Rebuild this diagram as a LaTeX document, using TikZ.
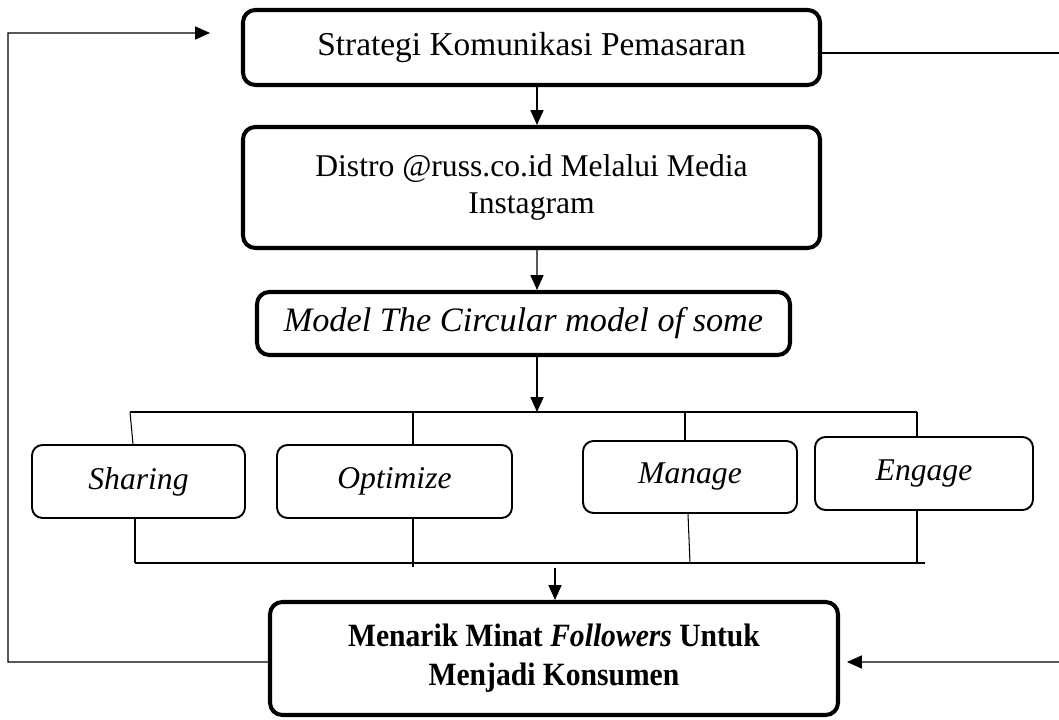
\documentclass[tikz,border=0pt]{standalone}
\usepackage{fontspec}
\setmainfont{Liberation Serif}
\newfontfamily\rapat[FakeStretch=0.91]{Liberation Serif}
\usetikzlibrary{arrows.meta}

\begin{document}
\begin{tikzpicture}[
    >={Triangle[length=8.5pt,width=7.5pt]},
    bigbox/.style={draw, line width=2.3pt, rounded corners=7pt, inner sep=0pt, align=center, font=\fontsize{18}{21.5}\selectfont},
    smallbox/.style={draw, line width=1.1pt, rounded corners=6pt, inner sep=0pt, minimum height=1.46cm, font=\fontsize{18}{21.5}\selectfont\itshape},
    lijn/.style={line width=0.6pt}
  ]
  \useasboundingbox (0,0) rectangle (21.18,14.4);

  % Kotak utama
  \node[bigbox, minimum width=11.54cm, minimum height=1.5cm, font=\fontsize{19}{22}\selectfont] (strategi) at (10.63,13.45) {Strategi Komunikasi Pemasaran};
  \node[bigbox, minimum width=11.54cm, minimum height=2.42cm] (distro) at (10.63,10.65) {Distro @russ.co.id Melalui Media\\Instagram};
  \node[bigbox, minimum width=10.66cm, minimum height=1.26cm, font=\fontsize{19.5}{22}\selectfont\itshape] (model) at (10.47,7.93) {Model The Circular model of some};

  % Kotak tahapan
  \node[smallbox, minimum width=4.26cm] (sharing) at (2.77,4.77) {Sharing};
  \node[smallbox, minimum width=4.7cm] (optimize) at (7.89,4.77) {Optimize};
  \node[smallbox, minimum width=4.28cm, minimum height=1.44cm] (manage) at (13.8,4.86) {Manage};
  \node[smallbox, minimum width=4.36cm] (engage) at (18.48,4.93) {Engage};

  % Kotak hasil
  \node[bigbox, minimum width=11.36cm, minimum height=2.26cm, font=\rapat\fontsize{18.5}{22}\selectfont\bfseries] (menarik) at (11.08,1.23) {Menarik Minat \textit{Followers} Untuk\\Menjadi Konsumen};

  % Panah vertikal
  \draw[->, lijn] ([xshift=0.11cm]strategi.south) -- ([xshift=0.11cm]distro.north);
  \draw[->, lijn] ([xshift=0.11cm]distro.south) -- ([xshift=0.27cm]model.north);

  % Percabangan atas
  \coordinate (atasKiri) at (2.6,6.16);
  \coordinate (atasKanan) at (18.34,6.16);
  \draw[->, lijn] ([xshift=0.27cm]model.south) -- (10.74,6.16);
  \draw[lijn] (atasKiri) -- (atasKanan);
  \draw[lijn] (atasKiri) -- ([xshift=-0.11cm]sharing.north);
  \draw[lijn] (8.26,6.16) -- (8.26,0 |- optimize.north);
  \draw[lijn] (13.7,6.16) -- (13.7,0 |- manage.north);
  \draw[lijn] (atasKanan) -- (engage.north -| atasKanan);

  % Percabangan bawah
  \coordinate (bawahKiri) at (2.7,3.14);
  \coordinate (bawahKanan) at (18.5,3.14);
  \draw[lijn] (bawahKiri) -- (bawahKanan);
  \draw[lijn] (2.7,0 |- sharing.south) -- (bawahKiri);
  \draw[lijn] (8.26,0 |- optimize.south) -- (8.26,3.06);
  \draw[lijn] ([xshift=-0.04cm]manage.south) -- (13.8,3.14);
  \draw[lijn] (18.34,0 |- engage.south) -- (18.34,3.14);
  \draw[->, lijn] (11.1,3.04) -- (11.1,0 |- menarik.north);

  % Umpan balik
  \draw[->, lijn] ([yshift=-0.07cm]menarik.west) -- (0.16,1.16) -- (0.16,13.74) -- (4.2,13.74);
  \draw[lijn] ([yshift=-0.11cm]strategi.east) -- (21.18,13.34);
  \draw[->, lijn] (21.18,1.16) -- ([yshift=-0.07cm, xshift=0.14cm]menarik.east);
\end{tikzpicture}
\end{document}
